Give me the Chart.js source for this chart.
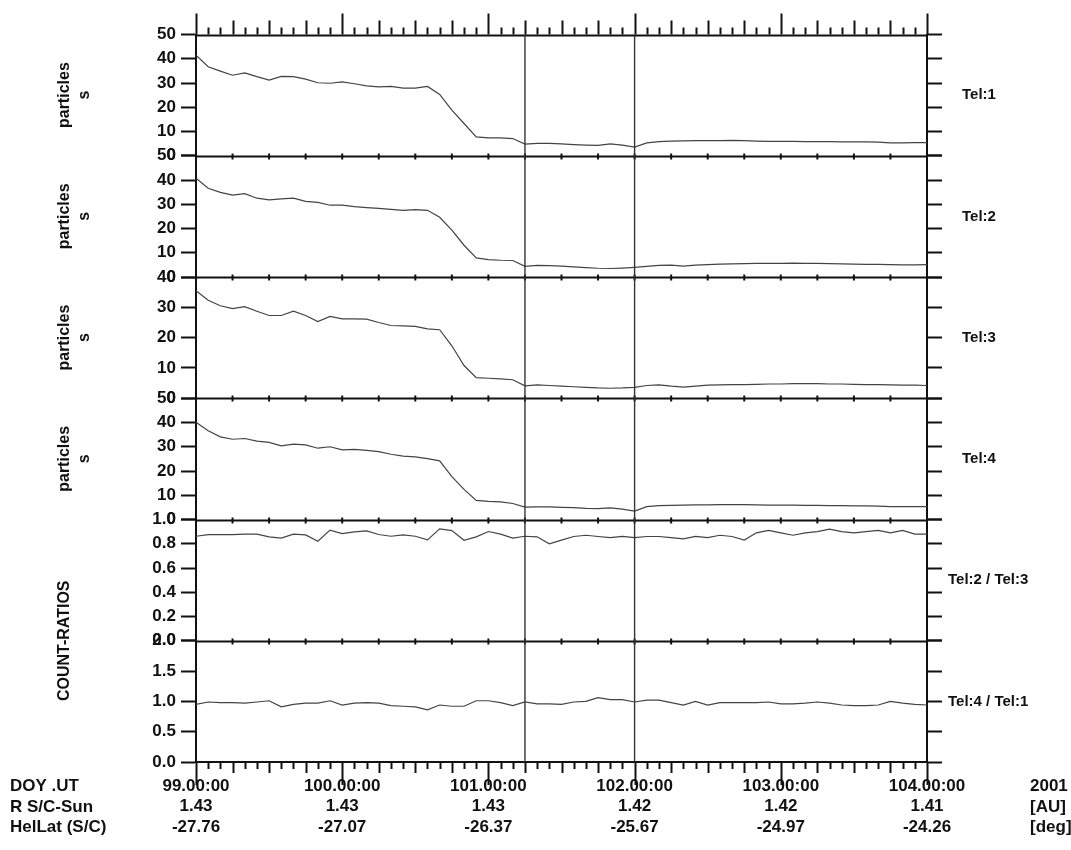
<!DOCTYPE html>
<html>
<head>
<meta charset="utf-8">
<script src="https://cdn.jsdelivr.net/npm/chart.js@4.4.1/dist/chart.umd.min.js"></script>
<style>
  html, body { margin: 0; padding: 0; background: #fff; }
  #wrap { width: 1071px; height: 850px; }
</style>
</head>
<body>
<div id="wrap"><canvas id="chart" width="1071" height="850"></canvas></div>
<script>
// ---- data (2-hour samples, DOY 99.0 .. 104.0) ----
const startDoy = 99;
const endDoy = 104;
const stepDays = 1 / 12;

const tel1 = [41.5, 36.7, 34.9, 33.2, 34.2, 32.6, 31.2, 32.7, 32.6, 31.6, 30.1, 29.9, 30.5, 29.7, 28.8, 28.4, 28.6, 27.9, 27.9, 28.6,
  25.3, 18.8, 13.3, 7.8, 7.4, 7.4, 7.1, 4.8, 5.1, 5.1, 4.9, 4.6, 4.4, 4.3, 4.9, 4.4, 3.6, 5.3, 5.8, 6.0,
  6.1, 6.2, 6.2, 6.2, 6.3, 6.2, 6.0, 5.9, 5.9, 5.9, 5.8, 5.8, 5.8, 5.7, 5.7, 5.7, 5.6, 5.3, 5.3, 5.4, 5.4];
const tel2 = [40.7, 36.6, 34.9, 33.8, 34.4, 32.5, 31.8, 32.2, 32.5, 31.2, 30.8, 29.6, 29.6, 29.0, 28.6, 28.3, 27.9, 27.5, 27.8, 27.5,
  24.6, 19.3, 13.1, 7.9, 7.2, 6.9, 6.8, 4.4, 4.8, 4.7, 4.5, 4.2, 3.9, 3.6, 3.5, 3.7, 4.0, 4.4, 4.8, 4.9,
  4.5, 4.9, 5.1, 5.3, 5.4, 5.5, 5.6, 5.6, 5.6, 5.7, 5.6, 5.6, 5.5, 5.4, 5.3, 5.2, 5.2, 5.1, 5.0, 5.0, 5.1];
const tel3 = [35.5, 32.3, 30.5, 29.6, 30.2, 28.7, 27.3, 27.3, 28.7, 27.3, 25.3, 27.0, 26.2, 26.2, 26.1, 25.0, 24.0, 23.9, 23.7, 22.9,
  22.6, 17.3, 10.8, 6.8, 6.6, 6.4, 6.1, 4.1, 4.4, 4.2, 4.0, 3.8, 3.6, 3.4, 3.3, 3.4, 3.6, 4.2, 4.4, 4.0,
  3.7, 4.0, 4.3, 4.4, 4.5, 4.5, 4.6, 4.7, 4.7, 4.8, 4.8, 4.8, 4.7, 4.7, 4.6, 4.5, 4.5, 4.4, 4.3, 4.3, 4.2];
const tel4 = [40.1, 36.6, 34.1, 33.1, 33.4, 32.3, 31.8, 30.4, 31.1, 30.8, 29.4, 30.0, 28.7, 28.9, 28.5, 28.0, 26.9, 26.1, 25.8, 25.1,
  24.2, 17.7, 12.4, 7.9, 7.5, 7.3, 6.6, 5.1, 5.2, 5.2, 5.0, 4.9, 4.6, 4.5, 4.8, 4.3, 3.5, 5.3, 5.7, 5.8,
  5.9, 6.0, 6.0, 6.1, 6.1, 6.1, 6.0, 5.9, 5.9, 5.9, 5.8, 5.8, 5.7, 5.7, 5.6, 5.6, 5.5, 5.3, 5.3, 5.3, 5.3];
const ratio23 = [0.862, 0.876, 0.876, 0.876, 0.879, 0.879, 0.857, 0.846, 0.879, 0.873, 0.821, 0.912, 0.884, 0.898, 0.906, 0.876, 0.862, 0.873, 0.862, 0.832,
  0.923, 0.909, 0.829, 0.857, 0.901, 0.879, 0.846, 0.862, 0.857, 0.80, 0.83, 0.86, 0.87, 0.86, 0.85, 0.86, 0.85, 0.86, 0.86, 0.85,
  0.84, 0.86, 0.85, 0.87, 0.86, 0.83, 0.89, 0.91, 0.89, 0.87, 0.89, 0.90, 0.92, 0.90, 0.89, 0.90, 0.91, 0.89, 0.91, 0.88, 0.88];
const ratio41 = [0.95, 0.99, 0.98, 0.98, 0.97, 0.99, 1.01, 0.91, 0.95, 0.97, 0.97, 1.01, 0.94, 0.97, 0.98, 0.97, 0.93, 0.92, 0.91, 0.86,
  0.94, 0.92, 0.92, 1.01, 1.01, 0.98, 0.93, 0.99, 0.96, 0.96, 0.95, 0.99, 1.00, 1.06, 1.03, 1.03, 0.99, 1.02, 1.02, 0.98,
  0.94, 1.00, 0.94, 0.98, 0.98, 0.98, 0.98, 0.99, 0.96, 0.96, 0.97, 0.99, 0.97, 0.94, 0.93, 0.93, 0.94, 1.00, 0.97, 0.95, 0.94];

// x axis tick labels (one per day)
const doyLabels = ['99.00:00', '100.00:00', '101.00:00', '102.00:00', '103.00:00', '104.00:00'];
const distLabels = ['1.43', '1.43', '1.43', '1.42', '1.42', '1.41'];
const latLabels = ['-27.76', '-27.07', '-26.37', '-25.67', '-24.97', '-24.26'];
const rowNames = ['DOY .UT', 'R S/C-Sun', 'HelLat (S/C)'];
const rowUnits = ['2001', '[AU]', '[deg]'];

// vertical event markers
const markers = [101.25, 102.0];

// panels, top to bottom
const panels = [
  { id: 'y1', data: tel1, max: 50, step: 10, digits: 0, tel: 'Tel:1', title: ['particles', 's'] },
  { id: 'y2', data: tel2, max: 50, step: 10, digits: 0, tel: 'Tel:2', title: ['particles', 's'] },
  { id: 'y3', data: tel3, max: 40, step: 10, digits: 0, tel: 'Tel:3', title: ['particles', 's'] },
  { id: 'y4', data: tel4, max: 50, step: 10, digits: 0, tel: 'Tel:4', title: ['particles', 's'] },
  { id: 'y5', data: ratio23, max: 1.0, step: 0.2, digits: 1, tel: 'Tel:2 / Tel:3', title: '' },
  { id: 'y6', data: ratio41, max: 2.0, step: 0.5, digits: 1, tel: 'Tel:4 / Tel:1', title: '' }
];

// ---- style ----
const INK = '#111';
const LINE = '#444';
const FONT = "'Liberation Sans', Arial, Helvetica, sans-serif";
const LEFT_W = 196;
const RIGHT_W = 144;
const BOTTOM_H = 88;

Chart.defaults.font.family = FONT;
Chart.defaults.font.weight = 'bold';
Chart.defaults.color = INK;

const times = tel1.map((_, i) => startDoy + i * stepDays);

function leftAxis(p, i) {
  return {
    type: 'linear',
    position: 'left',
    stack: 'left',
    stackWeight: 1,
    weight: panels.length - i,
    min: 0,
    max: p.max,
    afterFit: s => { s.width = LEFT_W; },
    border: { display: true, color: INK, width: 2 },
    grid: { drawOnChartArea: false, drawTicks: true, tickLength: 15, tickWidth: 2, tickColor: INK },
    ticks: {
      stepSize: p.step,
      autoSkip: false,
      padding: 5,
      color: INK,
      font: { size: 17, weight: 'bold' },
      callback: v => Number(v).toFixed(p.digits)
    },
    title: {
      display: !!p.title,
      text: p.title,
      color: INK,
      font: { size: 16, weight: 'bold', lineHeight: 1.25 },
      padding: { top: 55, bottom: 0 }
    }
  };
}

function rightAxis(p, i) {
  return {
    type: 'linear',
    position: 'right',
    stack: 'right',
    stackWeight: 1,
    weight: i + 1,
    min: 0,
    max: p.max,
    afterFit: s => { s.width = RIGHT_W; },
    border: { display: true, color: INK, width: 2 },
    grid: { drawOnChartArea: false, drawTicks: true, tickLength: 15, tickWidth: 2, tickColor: INK },
    ticks: { display: false, stepSize: p.step, autoSkip: false }
  };
}

const scales = {
  x: {
    type: 'linear',
    position: 'bottom',
    min: startDoy,
    max: endDoy,
    afterFit: s => { s.height = BOTTOM_H; },
    border: { display: true, color: INK, width: 2 },
    grid: { drawOnChartArea: false, drawTicks: false },
    ticks: {
      stepSize: 1,
      autoSkip: false,
      maxRotation: 0,
      padding: 14,
      color: INK,
      font: { size: 17, weight: 'bold', lineHeight: 1.2 },
      callback: (v, idx) => [doyLabels[idx], distLabels[idx], latLabels[idx]]
    }
  }
};
panels.forEach((p, i) => {
  scales[p.id] = leftAxis(p, i);
  scales['r' + (i + 1)] = rightAxis(p, i);
});

function seg(ctx, x1, y1, x2, y2) {
  ctx.beginPath();
  ctx.moveTo(x1, y1);
  ctx.lineTo(x2, y2);
  ctx.stroke();
}

// frame ticks, panel borders, markers and side texts
const framePlugin = {
  id: 'frame',
  afterDraw(chart) {
    const { ctx, chartArea: area, scales: sc } = chart;
    const xs = sc.x;
    ctx.save();
    ctx.strokeStyle = INK;
    ctx.lineWidth = 2;

    // panel separators with quarter-day dots
    panels.forEach((p, i) => {
      const y = Math.round(sc[p.id].top) + 0.5;
      seg(ctx, area.left, y, area.right, y);
      if (i > 0) {
        for (let q = 1; q < (endDoy - startDoy) * 4; q++) {
          const px = xs.getPixelForValue(startDoy + q / 4);
          seg(ctx, px, y - 3, px, y + 3);
        }
      }
    });

    // time ticks on top (upward) and bottom (downward)
    for (let h = 0; h <= (endDoy - startDoy) * 24; h += 2) {
      const px = Math.round(xs.getPixelForValue(startDoy + h / 24)) + 0.5;
      const major = h % 24 === 0;
      const mid = h % 6 === 0;
      seg(ctx, px, area.top, px, area.top - (major ? 21 : mid ? 14 : 7));
      seg(ctx, px, area.bottom, px, area.bottom + (major ? 23 : mid ? 11 : 7));
    }

    // event markers
    ctx.strokeStyle = '#333';
    ctx.lineWidth = 1.4;
    markers.forEach(t => {
      const px = xs.getPixelForValue(t);
      seg(ctx, px, area.top, px, area.bottom);
    });

    // row captions under the x axis
    ctx.fillStyle = INK;
    ctx.textBaseline = 'middle';
    ctx.font = 'bold 17px ' + FONT;
    rowNames.forEach((t, r) => {
      const y = xs.top + 24.5 + r * 20.4;
      ctx.textAlign = 'left';
      ctx.fillText(t, 10, y);
      ctx.fillText(rowUnits[r], 1030, y);
    });

    // telescope labels on the right
    ctx.font = 'bold 15px ' + FONT;
    ctx.textAlign = 'left';
    panels.forEach((p, i) => {
      const s = sc[p.id];
      ctx.fillText(p.tel, i < 4 ? 962 : 948, (s.top + s.bottom) / 2);
    });

    // shared title for the two ratio panels
    const yMid = sc.y5.bottom;
    ctx.save();
    ctx.translate(65, yMid);
    ctx.rotate(-Math.PI / 2);
    ctx.textAlign = 'center';
    ctx.font = 'bold 16px ' + FONT;
    ctx.fillText('COUNT-RATIOS', 0, 0);
    ctx.restore();

    ctx.restore();
  }
};

new Chart(document.getElementById('chart'), {
  type: 'line',
  data: {
    datasets: panels.map(p => ({
      label: p.tel,
      data: p.data.map((v, i) => ({ x: times[i], y: v })),
      yAxisID: p.id,
      borderColor: LINE,
      borderWidth: 1.2,
      pointRadius: 0,
      tension: 0,
      fill: false
    }))
  },
  options: {
    responsive: false,
    animation: false,
    layout: { autoPadding: false, padding: { top: 34.5, left: 0, right: 0, bottom: 0 } },
    plugins: { legend: { display: false }, tooltip: { enabled: false } },
    scales
  },
  plugins: [framePlugin]
});
</script>
</body>
</html>
